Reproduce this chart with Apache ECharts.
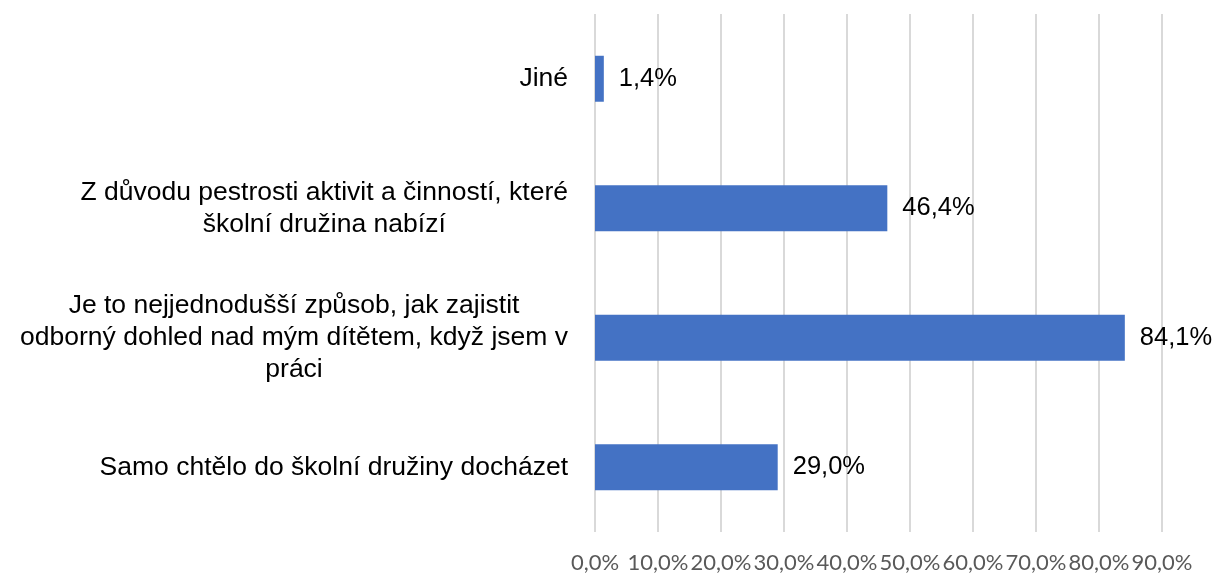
<!DOCTYPE html>
<html>
<head>
    <meta charset="utf-8">
    <title>Školní družina</title>
    <script src="https://cdn.jsdelivr.net/npm/echarts@6/dist/echarts.min.js"></script>
    <style>
        html, body { margin: 0; padding: 0; background: #fff; }
    </style>
</head>
<body>
    <div id="main" style="width: 1217px;height:574px;"></div>
    <script type="text/javascript">
        // kategorie odspodu nahoru (jak je kreslí osa Y)
        var categories = [
            'Samo chtělo do školní družiny docházet',
            'Je to nejjednodušší způsob, jak zajistit\nodborný dohled nad mým dítětem, když jsem v\npráci',
            'Z důvodu pestrosti aktivit a činností, které\nškolní družina nabízí',
            'Jiné'
        ];
        var values = [29.0, 84.1, 46.4, 1.4];
        var axisMin = 0;
        var axisMax = 90;
        var axisStep = 10;

        function pct(v) {
            return v.toFixed(1).replace('.', ',') + '%';
        }

        var myChart = echarts.init(document.getElementById('main'));

        var option = {
            animation: false,
            backgroundColor: '#ffffff',
            grid: {
                left: 595,
                right: 55,
                top: 14,
                bottom: 40
            },
            xAxis: {
                type: 'value',
                min: axisMin,
                max: axisMax,
                interval: axisStep,
                axisLine: { show: false },
                axisTick: { show: false },
                splitLine: {
                    show: true,
                    lineStyle: { color: '#d9d9d9', width: 2 }
                },
                axisLabel: {
                    margin: 20,
                    hideOverlap: false,
                    showMinLabel: true,
                    showMaxLabel: true,
                    fontFamily: 'Lato',
                    fontSize: 22,
                    color: '#595959',
                    formatter: function (v) { return pct(v); }
                }
            },
            yAxis: {
                type: 'category',
                data: categories,
                axisLine: { show: false },
                axisTick: { show: false },
                axisLabel: {
                    margin: 27,
                    formatter: function (v) {
                        // každý řádek vycentrovat v rámci bloku
                        return v.split('\n').map(function (line) {
                            return '{c|' + line + '}';
                        }).join('\n');
                    },
                    rich: {
                        c: {
                            align: 'center',
                            fontFamily: 'Liberation Sans',
                            fontSize: 26.5,
                            lineHeight: 32,
                            color: '#000000'
                        }
                    }
                }
            },
            series: [{
                type: 'bar',
                data: values,
                barWidth: '35.5%',
                itemStyle: { color: '#4472C4' },
                label: {
                    show: true,
                    position: 'right',
                    distance: 15,
                    fontFamily: 'Liberation Sans',
                    fontSize: 25.5,
                    color: '#000000',
                    formatter: function (p) { return pct(p.value); }
                }
            }]
        };

        myChart.setOption(option);

        window.addEventListener("resize", function(){
            myChart.resize();
        })
    </script>
</body>
</html>
